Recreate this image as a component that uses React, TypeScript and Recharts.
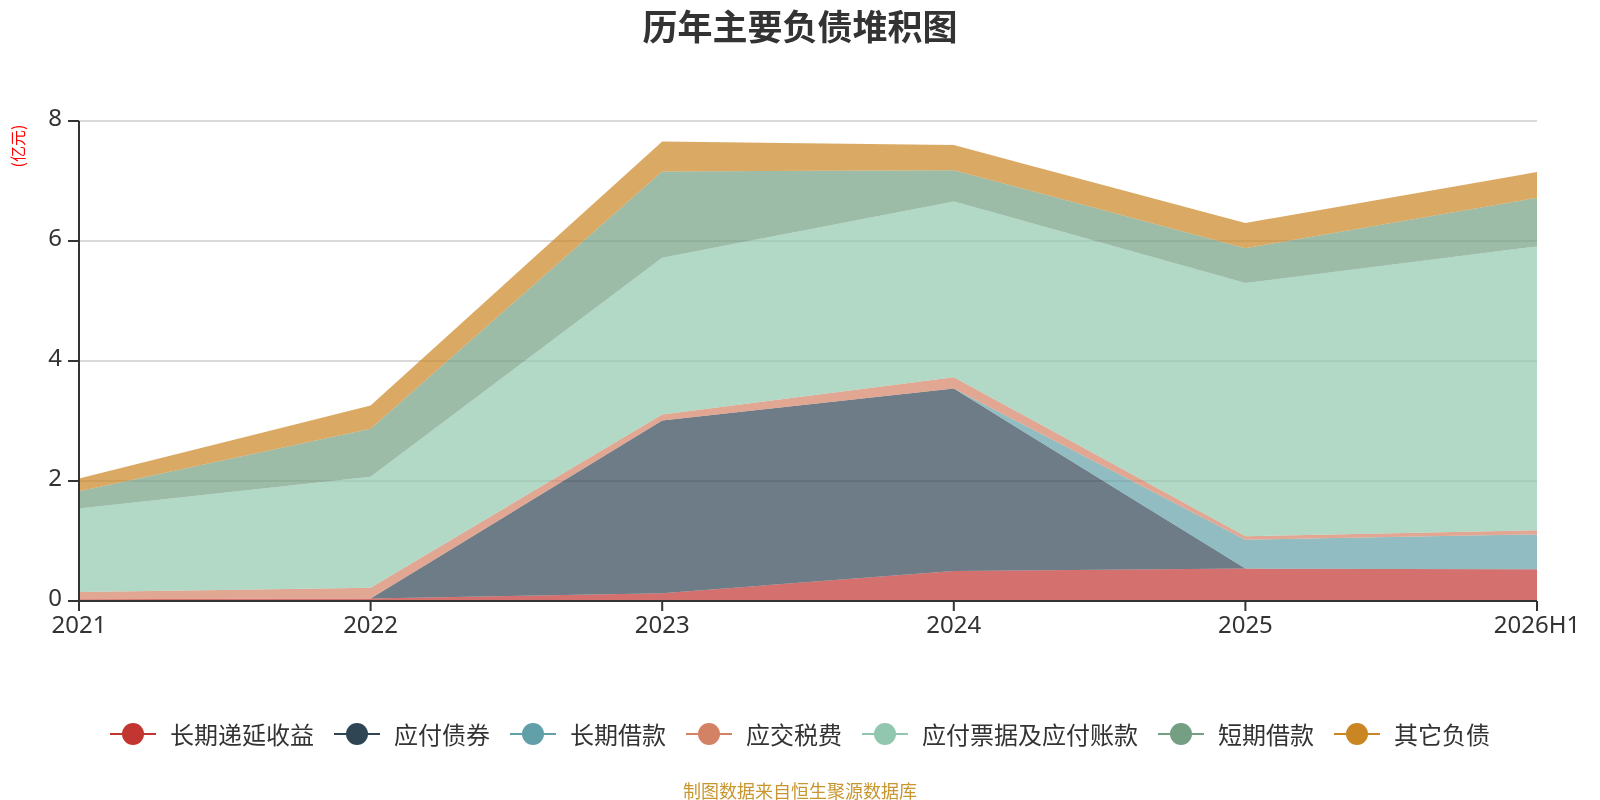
import React from 'react';
import { AreaChart, Area, XAxis, YAxis, CartesianGrid } from 'recharts';

// 报告期
const periods = ['2021', '2022', '2023', '2024', '2025', '2026H1'];

// 各项负债（亿元），自下而上堆叠
const deferredIncome = [0.03, 0.04, 0.13, 0.5, 0.54, 0.53];
const bondsPayable = [0, 0, 2.88, 3.04, 0, 0];
const longTermLoans = [0, 0, 0, 0, 0.48, 0.58];
const taxesPayable = [0.12, 0.18, 0.1, 0.19, 0.06, 0.07];
const notesAndAccounts = [1.39, 1.85, 2.61, 2.93, 4.22, 4.73];
const shortTermLoans = [0.29, 0.8, 1.44, 0.52, 0.58, 0.81];
const otherLiabilities = [0.21, 0.39, 0.5, 0.42, 0.42, 0.43];

const yTicks = [0, 2, 4, 6, 8];

const seriesList = [
  { key: 'deferredIncome', name: '长期递延收益', values: deferredIncome, color: '#c23531' },
  { key: 'bondsPayable', name: '应付债券', values: bondsPayable, color: '#2f4554' },
  { key: 'longTermLoans', name: '长期借款', values: longTermLoans, color: '#61a0a8' },
  { key: 'taxesPayable', name: '应交税费', values: taxesPayable, color: '#d48265' },
  { key: 'notesAndAccounts', name: '应付票据及应付账款', values: notesAndAccounts, color: '#91c7ae' },
  { key: 'shortTermLoans', name: '短期借款', values: shortTermLoans, color: '#749f83' },
  { key: 'otherLiabilities', name: '其它负债', values: otherLiabilities, color: '#ca8622' },
];

const data = periods.map((p, i) => {
  const row: Record<string, string | number> = { period: p };
  seriesList.forEach((s) => {
    row[s.key] = s.values[i];
  });
  return row;
});

const FONT = '"Noto Sans", "Noto Sans CJK SC", sans-serif';
const CJK = '"Noto Sans CJK SC", "Noto Sans", sans-serif';

const LegendRow: React.FC = () => (
  <div
    style={{
      position: 'absolute',
      left: 0,
      top: 716,
      width: 1600,
      display: 'flex',
      justifyContent: 'center',
      alignItems: 'center',
      fontFamily: CJK,
      fontSize: 24,
      color: '#333',
    }}
  >
    {seriesList.map((s) => (
      <div key={s.key} style={{ display: 'flex', alignItems: 'center', margin: '0 10px' }}>
        <svg width={46} height={24} style={{ marginRight: 14 }}>
          <line x1={0} y1={12} x2={46} y2={12} stroke={s.color} strokeWidth={2} />
          <circle cx={23} cy={12} r={11} fill={s.color} />
        </svg>
        <span style={{ lineHeight: '36px' }}>{s.name}</span>
      </div>
    ))}
  </div>
);

export default function App() {
  return (
    <div style={{ position: 'fixed', left: 0, top: 0, width: 1600, height: 800, background: '#fff' }}>
      <div
        style={{
          position: 'absolute',
          left: 0,
          top: 2,
          width: 1600,
          textAlign: 'center',
          fontFamily: CJK,
          fontWeight: 'bold',
          fontSize: 35,
          lineHeight: '46px',
          color: '#333',
        }}
      >
        历年主要负债堆积图
      </div>
      <div
        style={{
          position: 'absolute',
          left: 17,
          top: 146,
          transform: 'translate(-50%, -50%) rotate(-90deg)',
          fontFamily: CJK,
          fontSize: 16,
          color: '#ff0000',
          whiteSpace: 'nowrap',
        }}
      >
        (亿元)
      </div>
      <AreaChart
        width={1600}
        height={800}
        data={data}
        margin={{ top: 121, right: 63, left: 0, bottom: 159 }}
      >
        <CartesianGrid vertical={false} stroke="#cccccc" strokeWidth={1.5} />
        <XAxis
          dataKey="period"
          interval={0}
          height={40}
          tickSize={10}
          tickMargin={5}
          axisLine={{ stroke: '#333', strokeWidth: 2 }}
          tickLine={{ stroke: '#333', strokeWidth: 2 }}
          tick={{ fontSize: 24, fill: '#333', fontFamily: FONT }}
        />
        <YAxis
          domain={[0, 8]}
          ticks={yTicks}
          width={79}
          tickSize={11}
          tickMargin={6}
          axisLine={{ stroke: '#333', strokeWidth: 2 }}
          tickLine={{ stroke: '#333', strokeWidth: 2 }}
          tick={{ fontSize: 24, fill: '#333', fontFamily: FONT, dy: -4 }}
        />
        {seriesList.map((s) => (
          <Area
            key={s.key}
            type="linear"
            dataKey={s.key}
            name={s.name}
            stackId="debt"
            stroke="none"
            fill={s.color}
            fillOpacity={0.7}
            dot={false}
            activeDot={false}
            isAnimationActive={false}
          />
        ))}
      </AreaChart>
      <LegendRow />
      <div
        style={{
          position: 'absolute',
          left: 0,
          top: 778,
          width: 1600,
          textAlign: 'center',
          fontFamily: CJK,
          fontSize: 18,
          lineHeight: '24px',
          color: '#c8962e',
        }}
      >
        制图数据来自恒生聚源数据库
      </div>
    </div>
  );
}
